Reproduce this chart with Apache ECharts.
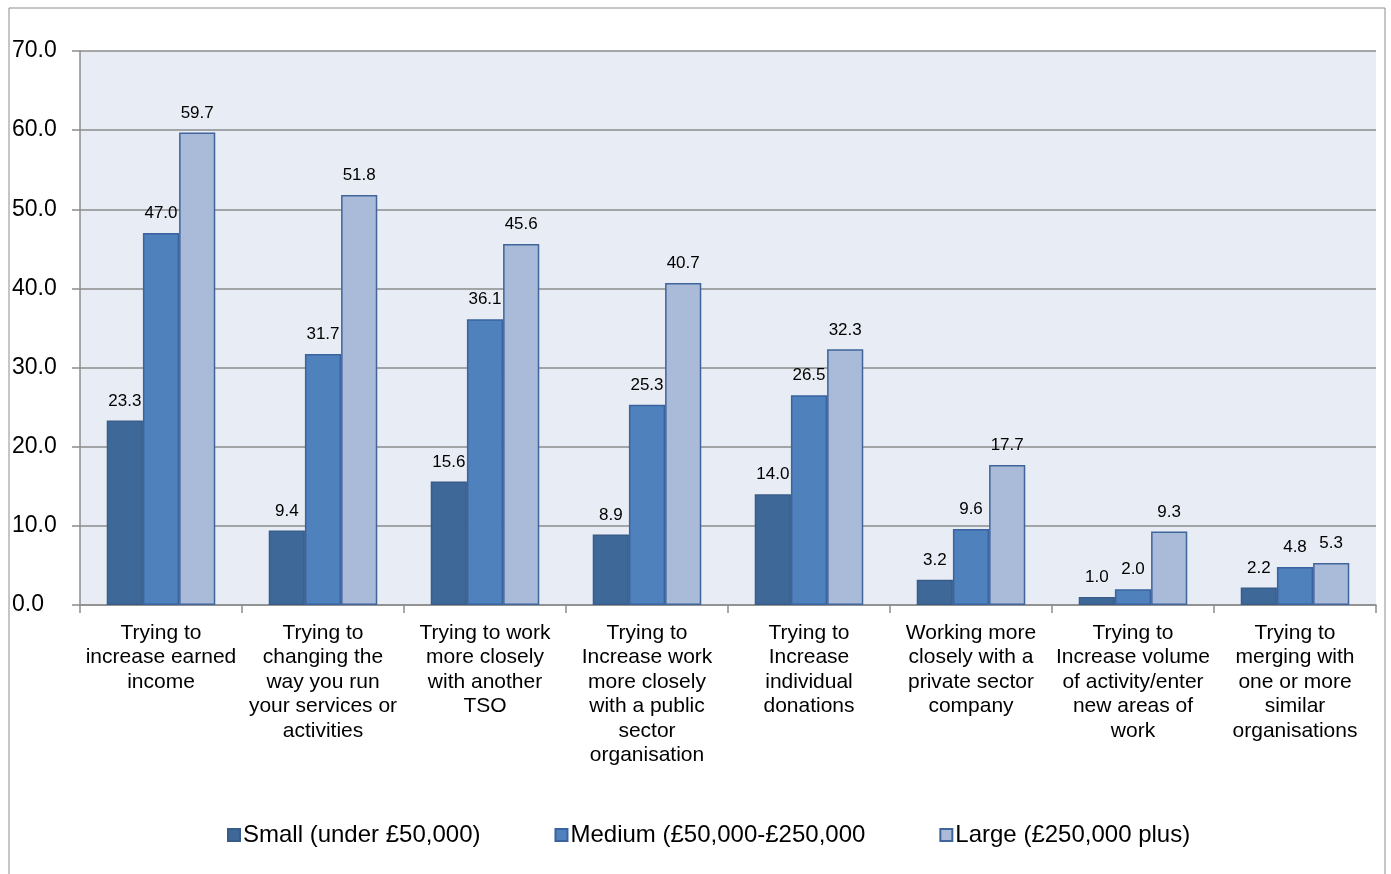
<!DOCTYPE html>
<html><head><meta charset="utf-8">
<script src="https://cdn.jsdelivr.net/npm/echarts@6/dist/echarts.min.js"></script>
<style>html,body{margin:0;padding:0;background:#fff}#c{width:1391px;height:874px}</style>
</head><body><div id="c"></div>
<script>
const categories = [
  "Trying to\nincrease earned\nincome",
  "Trying to\nchanging the\nway you run\nyour services or\nactivities",
  "Trying to work\nmore closely\nwith another\nTSO",
  "Trying to\nIncrease work\nmore closely\nwith a public\nsector\norganisation",
  "Trying to\nIncrease\nindividual\ndonations",
  "Working more\nclosely with a\nprivate sector\ncompany",
  "Trying to\nIncrease volume\nof activity/enter\nnew areas of\nwork",
  "Trying to\nmerging with\none or more\nsimilar\norganisations"
];
const smallVals = [23.3, 9.4, 15.6, 8.9, 14.0, 3.2, 1.0, 2.2];
const mediumVals = [47.0, 31.7, 36.1, 25.3, 26.5, 9.6, 2.0, 4.8];
const largeVals = [59.7, 51.8, 45.6, 40.7, 32.3, 17.7, 9.3, 5.3];
const seriesNames = ["Small (under £50,000)", "Medium (£50,000-£250,000", "Large (£250,000 plus)"];

const font = "'Liberation Sans', Arial, sans-serif";
const chart = echarts.init(document.getElementById('c'), null, {renderer: 'canvas'});
const lbl = {show: true, position: 'top', distance: 11, color: '#000', fontSize: 17, fontFamily: font, formatter: p => p.value.toFixed(1)};
function mk(name, data, color, border) {
  return {name, type: 'bar', data, barGap: '0%', barCategoryGap: '33%',
    itemStyle: {color, borderColor: border, borderWidth: 1.5}, label: lbl};
}
chart.setOption({
  animation: false,
  textStyle: {fontFamily: font},
  graphic: [{type: 'rect', shape: {x: 9, y: 8, width: 1376, height: 880}, style: {fill: 'none', stroke: '#8c8c8c', lineWidth: 1}, silent: true}],
  grid: {left: 80, right: 15, top: 51, bottom: 269, show: true, backgroundColor: '#e8ecf4', borderWidth: 0},
  legend: {top: 818, left: 222, itemWidth: 12, itemHeight: 12, itemGap: 74,
    textStyle: {fontSize: 24, color: '#000', fontFamily: font, padding: [0, 0, 0, -2]}, icon: 'rect',
    data: seriesNames},
  xAxis: {type: 'category', data: categories,
    axisLine: {lineStyle: {color: '#8c8c8c', width: 1.5}},
    axisTick: {show: true, length: 8, lineStyle: {color: '#8c8c8c', width: 1.5}},
    axisLabel: {interval: 0, color: '#000', fontSize: 21, lineHeight: 24.4, margin: 16, fontFamily: font}},
  yAxis: {type: 'value', min: 0, max: 70, interval: 10,
    axisLine: {show: true, lineStyle: {color: '#8c8c8c', width: 1.5}},
    axisTick: {show: true, length: 8, lineStyle: {color: '#8c8c8c', width: 1.5}},
    splitLine: {lineStyle: {color: '#8c8c8c', width: 1.5}},
    axisLabel: {color: '#000', fontSize: 23, margin: 68, align: 'left', fontFamily: font, formatter: v => v.toFixed(1)}},
  series: [
    mk(seriesNames[0], smallVals, '#3e6898', '#385d8a'),
    mk(seriesNames[1], mediumVals, '#4f81bd', '#3a63a0'),
    mk(seriesNames[2], largeVals, '#aabbda', '#3f659a')
  ]
});
</script></body></html>
